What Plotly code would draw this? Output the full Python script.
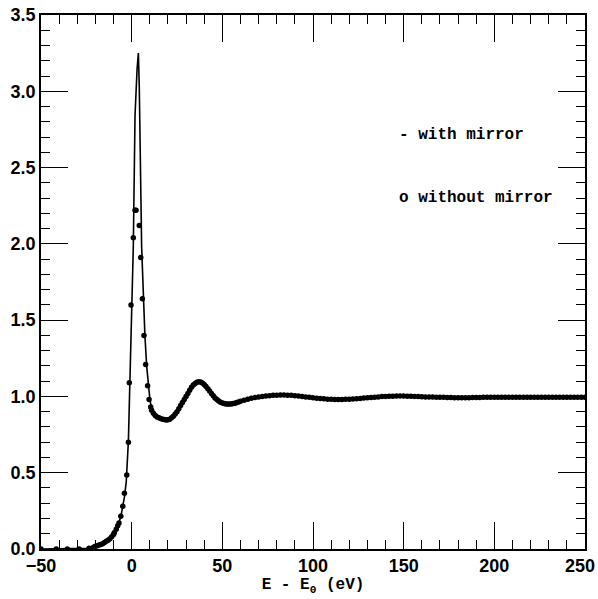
import plotly.graph_objects as go

# "with mirror" solid curve
line_x = [-50, -40, -30, -25, -20, -17, -15, -12, -10, -8, -6, -4, -3, -1.8, -0.9, 0, 0.9, 1.85, 2.4, 3.0, 3.7,
          4.2, 5.5, 6.4, 7.3, 8.3, 9.2, 10.1, 11, 12, 14, 16, 19, 22, 25, 28, 31, 34, 37, 40, 43, 46, 50,
          54, 58, 62, 66, 70, 75, 80, 85, 90, 95, 100, 105, 110, 115, 120, 130, 140, 150, 160, 170, 180,
          190, 200, 210, 220, 230, 240, 250]
line_y = [0.0, 0.0, 0.0, 0.004, 0.015, 0.03, 0.045, 0.075, 0.1, 0.145, 0.21, 0.34, 0.44, 0.71, 1.09, 1.5, 1.98, 2.84, 3.03, 3.15, 3.25,
          3.03, 1.98, 1.63, 1.4, 1.195, 1.06, 0.976, 0.92, 0.89, 0.862, 0.852, 0.845, 0.86, 0.9, 0.96, 1.02, 1.075, 1.096, 1.078, 1.035, 0.99, 0.957,
          0.95, 0.96, 0.975, 0.988, 0.997, 1.004, 1.008, 1.009, 1.005, 0.997, 0.991, 0.984, 0.981, 0.98, 0.982, 0.99, 1.0, 1.002, 0.998, 0.994, 0.992,
          0.993, 0.995, 0.995, 0.994, 0.994, 0.994, 0.994]

# "without mirror" data points
pts_x = [-50, -41.6, -35.5, -29, -23.5, -21, -20, -19, -18, -17, -16, -15, -14, -13, -12, -11, -10, -9.6, -8.5, -7.7, -7, -6, -4.9, -4, -2.7, -1.8,
         -1.3, -0.35, 0.9, 1.85, 2.4, 4.2, 5.0, 5.9, 6.8, 7.7, 8.8, 9.6, 10.5,
         11, 12, 13, 14, 15, 16, 17, 18, 19, 20, 21, 22, 23, 24, 25, 26, 27, 28, 29, 30,
         31, 32, 33, 34, 35, 36, 37, 38, 39, 40, 41, 42, 43, 44, 45, 46, 47, 48, 49, 50,
         51, 52, 53, 54, 55, 56, 57, 58, 59, 60, 62, 64, 66, 68, 70, 72, 74, 76, 78, 80,
         82, 84, 86, 88, 90, 92, 94, 96, 98, 100, 102, 104, 106, 108, 110, 112, 114, 116, 118, 120,
         122, 124, 126, 128, 130, 132, 134, 136, 138, 140, 142, 144, 146, 148, 150, 152, 154, 156, 158, 160,
         162, 164, 166, 168, 170, 172, 174, 176, 178, 180, 182, 184, 186, 188, 190, 192, 194, 196, 198, 200,
         202, 204, 206, 208, 210, 212, 214, 216, 218, 220, 222, 224, 226, 228, 230, 232, 234, 236, 238, 240,
         242, 244, 246, 248, 250]
pts_y = [0.0, 0.0, 0.0, 0.0, 0.005, 0.012, 0.018, 0.022, 0.026, 0.03, 0.035, 0.042, 0.05, 0.058, 0.068, 0.08, 0.095, 0.107, 0.13, 0.153, 0.17, 0.215, 0.28, 0.365, 0.485, 0.70,
         1.09, 1.6, 2.04, 2.22, 2.22, 2.12, 1.91, 1.64, 1.40, 1.21, 1.07, 0.98, 0.93,
         0.91, 0.89, 0.875, 0.865, 0.86, 0.855, 0.85, 0.848, 0.845, 0.847, 0.85, 0.86, 0.87, 0.885, 0.90, 0.92, 0.94, 0.96, 0.98, 1.0,
         1.02, 1.04, 1.06, 1.075, 1.085, 1.093, 1.096, 1.094, 1.088, 1.078, 1.065, 1.05, 1.035, 1.02, 1.005, 0.99, 0.98, 0.97, 0.962, 0.957,
         0.953, 0.951, 0.95, 0.95, 0.951, 0.953, 0.956, 0.96, 0.964, 0.968, 0.975, 0.982, 0.988, 0.993, 0.997, 1.0, 1.003, 1.005, 1.007, 1.008,
         1.009, 1.009, 1.008, 1.007, 1.005, 1.003, 1.0, 0.997, 0.994, 0.991, 0.988, 0.986, 0.984, 0.982, 0.981, 0.98, 0.98, 0.98, 0.981, 0.982,
         0.983, 0.985, 0.987, 0.989, 0.991, 0.993, 0.995, 0.997, 0.999, 1.0, 1.001, 1.001, 1.002, 1.002, 1.002, 1.001, 1.001, 1.0, 0.999, 0.998,
         0.997, 0.996, 0.996, 0.995, 0.994, 0.994, 0.993, 0.993, 0.992, 0.992, 0.992, 0.992, 0.992, 0.993, 0.993, 0.993, 0.994, 0.994, 0.995, 0.995,
         0.995, 0.995, 0.995, 0.995, 0.995, 0.995, 0.995, 0.995, 0.994, 0.994, 0.994, 0.994, 0.994, 0.994, 0.994, 0.994, 0.994, 0.994, 0.994, 0.994,
         0.994, 0.994, 0.994, 0.994, 0.994]

x_ticks = [-50, 0, 50, 100, 150, 200, 250]
y_ticks = [0.0, 0.5, 1.0, 1.5, 2.0, 2.5, 3.0, 3.5]
y_tick_text = ["0.0", "0.5", "1.0", "1.5", "2.0", "2.5", "3.0", "3.5"]
x_tick_text = ["\u221250", "0", "50", "100", "150", "200", "250"]

fig = go.Figure()
fig.add_trace(go.Scatter(x=line_x, y=line_y, mode="lines",
                         line=dict(color="black", width=1.6), showlegend=False, cliponaxis=False))
fig.add_trace(go.Scatter(x=pts_x, y=pts_y, mode="markers",
                         marker=dict(color="black", size=5.5), showlegend=False, cliponaxis=True))

mono = "Liberation Mono"
tick_font = dict(family="Liberation Sans", size=18, color="black", weight="bold")
fig.add_annotation(x=0.655, y=0.776, xref="paper", yref="paper", xanchor="left", yanchor="middle",
                   text="- with mirror", showarrow=False,
                   font=dict(family=mono, size=16, color="black", weight="bold"))
fig.add_annotation(x=0.655, y=0.658, xref="paper", yref="paper", xanchor="left", yanchor="middle",
                   text="o without mirror", showarrow=False,
                   font=dict(family=mono, size=16, color="black", weight="bold"))

# last x tick label drawn as text pulled in so it stays inside the page
shown_x_text = x_tick_text[:-1] + [""]
fig.add_annotation(x=1.021, y=0, xref="paper", yref="paper", xanchor="right", yanchor="middle",
                   yshift=-17, text=x_tick_text[-1], showarrow=False, font=tick_font, borderpad=0)

axis_common = dict(showgrid=False, zeroline=False, showline=True, linecolor="black", linewidth=1.5,
                   mirror="ticks", ticks="inside", tickcolor="black", tickwidth=1.3, ticklen=27,
                   automargin=False)

fig.update_xaxes(range=[-50, 250], tickvals=x_ticks, ticktext=shown_x_text,
                 minor=dict(dtick=10, ticks="inside", ticklen=9, tickcolor="black", tickwidth=1.2),
                 tickfont=tick_font,
                 title=dict(text="E - E<sub>0</sub> (eV)", standoff=0,
                            font=dict(family=mono, size=16, color="black", weight="bold")),
                 **axis_common)
fig.update_yaxes(range=[0, 3.5], tickvals=y_ticks, ticktext=y_tick_text,
                 minor=dict(dtick=0.1, ticks="inside", ticklen=9, tickcolor="black", tickwidth=1.2),
                 tickfont=tick_font,
                 **axis_common)

fig.update_layout(width=598, height=599, margin=dict(l=41, r=13, t=15, b=50),
                  plot_bgcolor="white", paper_bgcolor="white")
fig.write_html("out.html")
